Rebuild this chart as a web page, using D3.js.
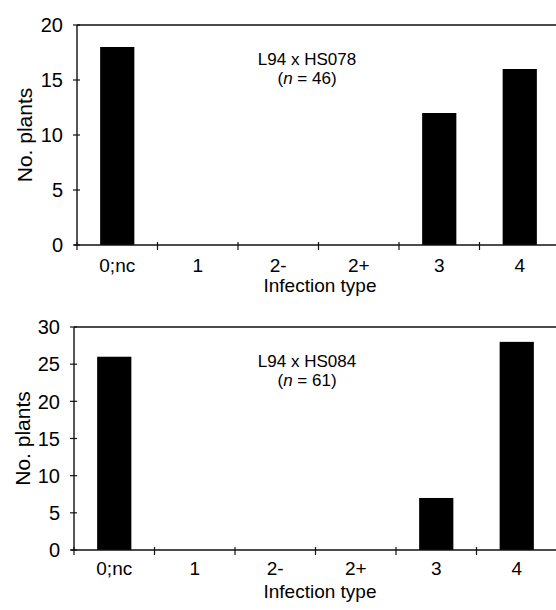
<!DOCTYPE html>
<html>
<head>
<meta charset="utf-8">
<script src="https://cdn.jsdelivr.net/npm/d3@7"></script>
<style>
  body { margin: 0; background: #fff; }
  svg { display: block; font-family: "Liberation Sans", Arial, Helvetica, sans-serif; }
</style>
</head>
<body>
<div id="chart"></div>
<script>
var categories = ["0;nc", "1", "2-", "2+", "3", "4"];
var counts_hs078 = [18, 0, 0, 0, 12, 16];
var counts_hs084 = [26, 0, 0, 0, 7, 28];
var yticks_hs078 = [0, 5, 10, 15, 20];
var yticks_hs084 = [0, 5, 10, 15, 20, 25, 30];

var width = 556, height = 610;

var svg = d3.select("#chart")
    .append("svg")
    .attr("width", width)
    .attr("height", height);

// one panel per cross
function drawPanel(opt) {
    var g = svg.append("g");

    var x = d3.scaleBand()
        .domain(categories)
        .range([opt.left, opt.left + 80.5 * categories.length])
        .paddingInner(0.575)
        .paddingOuter(0.2875);

    var y = d3.scaleLinear()
        .domain([0, opt.ymax])
        .range([opt.bottom, opt.top]);

    var gap = (x.step() - x.bandwidth()) / 2;

    // bars
    g.selectAll(".bar")
        .data(opt.values)
        .enter().append("rect")
        .attr("class", "bar")
        .attr("x", function(d, i) { return x(categories[i]); })
        .attr("width", x.bandwidth())
        .attr("y", function(d) { return y(d); })
        .attr("height", function(d) { return opt.bottom - y(d); })
        .attr("fill", "#000");

    // frame: top line, left axis, bottom axis
    g.append("line")
        .attr("x1", opt.left).attr("x2", width)
        .attr("y1", opt.top).attr("y2", opt.top)
        .attr("stroke", "#111").attr("stroke-width", 1.4);
    g.append("line")
        .attr("x1", opt.left).attr("x2", opt.left)
        .attr("y1", opt.top).attr("y2", opt.bottom)
        .attr("stroke", "#111").attr("stroke-width", 1.4);
    g.append("line")
        .attr("x1", opt.left - 3).attr("x2", width)
        .attr("y1", opt.bottom).attr("y2", opt.bottom)
        .attr("stroke", "#111").attr("stroke-width", 1.4);

    // y ticks
    g.selectAll(".ytick")
        .data(opt.yticks)
        .enter().append("line")
        .attr("x1", opt.left - 4).attr("x2", opt.left + 3)
        .attr("y1", function(d) { return y(d); })
        .attr("y2", function(d) { return y(d); })
        .attr("stroke", "#111").attr("stroke-width", 1.2);

    g.selectAll(".ylab")
        .data(opt.yticks)
        .enter().append("text")
        .attr("x", opt.left - 14)
        .attr("y", function(d) { return y(d); })
        .attr("dy", "0.36em")
        .attr("text-anchor", "end")
        .attr("font-size", 20)
        .text(function(d) { return d; });

    // x ticks sit between categories
    g.selectAll(".xtick")
        .data(categories)
        .enter().append("line")
        .attr("x1", function(d) { return x(d) - gap; })
        .attr("x2", function(d) { return x(d) - gap; })
        .attr("y1", opt.bottom - 3).attr("y2", opt.bottom + 5)
        .attr("stroke", "#111").attr("stroke-width", 1.2);

    g.selectAll(".xlab")
        .data(categories)
        .enter().append("text")
        .attr("x", function(d) { return x(d) + x.bandwidth() / 2; })
        .attr("y", opt.bottom + opt.labelOffset)
        .attr("text-anchor", "middle")
        .attr("font-size", 19)
        .text(function(d) { return d; });

    g.append("text")
        .attr("x", 320)
        .attr("y", opt.bottom + opt.titleOffset)
        .attr("text-anchor", "middle")
        .attr("font-size", 19)
        .text("Infection type");

    g.append("text")
        .attr("transform", "translate(" + opt.ylabelX + "," + ((opt.top + opt.bottom) / 2) + ") rotate(-90)")
        .attr("text-anchor", "middle")
        .attr("font-size", 21)
        .text("No. plants");

    // cross name and sample size
    g.append("text")
        .attr("x", 307)
        .attr("y", opt.top + 40)
        .attr("text-anchor", "middle")
        .attr("font-size", 17)
        .text(opt.name);

    var n = g.append("text")
        .attr("x", 307)
        .attr("y", opt.top + 59)
        .attr("text-anchor", "middle")
        .attr("font-size", 17);
    n.append("tspan").text("(");
    n.append("tspan").attr("font-style", "italic").text("n");
    n.append("tspan").text(" = " + d3.sum(opt.values) + ")");
}

drawPanel({
    name: "L94 x HS078",
    values: counts_hs078,
    yticks: yticks_hs078,
    ymax: 20,
    left: 77, top: 25, bottom: 245,
    labelOffset: 27, titleOffset: 47, ylabelX: 32
});

drawPanel({
    name: "L94 x HS084",
    values: counts_hs084,
    yticks: yticks_hs084,
    ymax: 30,
    left: 74, top: 327, bottom: 550,
    labelOffset: 25, titleOffset: 48, ylabelX: 30
});
</script>
</body>
</html>
